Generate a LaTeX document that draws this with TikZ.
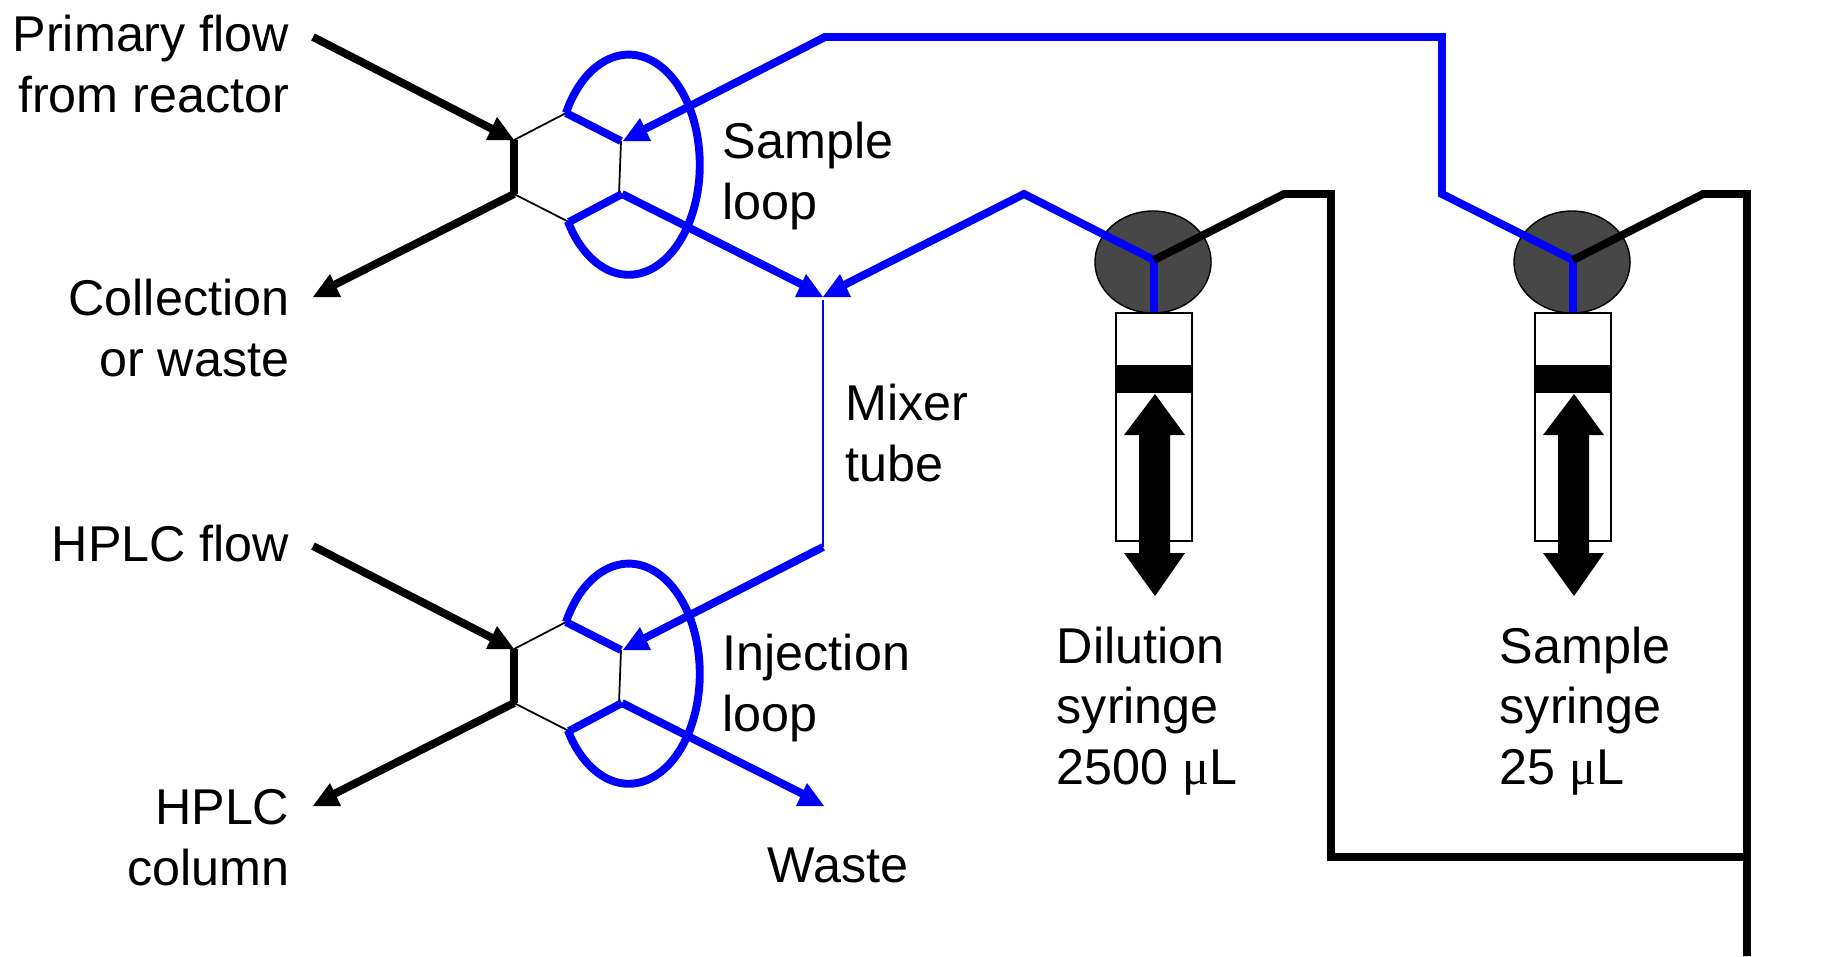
\documentclass[tikz,border=0pt]{standalone}
\usepackage{fontspec}
\setmainfont{Liberation Sans}
\newfontfamily\mufont{Liberation Serif}
\tikzset{
  flow/.style = {line width=2.25pt},
  thin flow/.style = {line width=.5pt},
  label/.style = {inner sep=0pt, font=\fontsize{14.3}{17.3}\selectfont},
  tipr/.pic = {\fill (0,0) -- (-28,0) -- (-17,-23) -- cycle;},
  tipl/.pic = {\fill (0,0) -- (28,0) -- (17,-23) -- cycle;},
  valve/.pic = {
    \coordinate (-lt) at (514,140);
    \coordinate (-lb) at (514,194);
    \coordinate (-t) at (566,113);
    \coordinate (-rt) at (621,141);
    \coordinate (-rb) at (619,194);
    \coordinate (-rc) at (622,194);
    \coordinate (-b) at (569,222);
    \coordinate (-in) at (500,133);
    \coordinate (-bin) at (639,132);
    \coordinate (-out) at (330,287);
    \draw[thin flow] (-lt) -- (-t);
    \draw[thin flow] (-rt) -- (-rb);
    \draw[thin flow] (-lb) -- (-b);
    \draw[flow] (-lt) -- (-lb);
    \draw[flow, blue] (-t) -- (-rt);
    \draw[flow, blue] (-rc) -- (-b);
    \draw[flow, blue] (-t) arc[start angle=152, end angle=-149, x radius=.71cm, y radius=1.1cm];
    \pic[black] at (-lt) {tipr};
    \pic[blue] at (623,141) {tipl};
    \pic[black] at (313,297) {tipl};
  },
  syringe/.pic = {
    \coordinate (-hub) at (0,0);
    \coordinate (-port) at (0,52);
    \draw[fill=black!72, line width=.4pt] (-1,2) ellipse[x radius=.58cm, y radius=.51cm];
    \draw[fill=white, line width=.4pt] (-38,53) rectangle (38,281);
    \fill (-38,105) rectangle (38,133);
    \fill (1,134) -- (31,175) -- (16,175) -- (16,293) -- (31,293) -- (1,336)
      -- (-30,293) -- (-15,293) -- (-15,175) -- (-30,175) -- cycle;
  }
}
\begin{document}
\begin{tikzpicture}[x=.01cm, y=-.01cm]
\useasboundingbox (0,0) rectangle (1831,956);
\pic (up) at (0,0) {valve};
\pic (lo) at (0,509) {valve};
\pic (dil) at (1154,260) {syringe};
\pic (sam) at (1573,260) {syringe};
\coordinate (pin) at (313,37);
\coordinate (hin) at (313,546);
\coordinate (top1) at (825,37);
\coordinate (top2) at (1442,37);
\coordinate (top3) at (1442,194);
\coordinate (mix) at (823,297);
\coordinate (mixa) at (809,288);
\coordinate (mixb) at (838,288);
\coordinate (mixc) at (823,547);
\coordinate (bend1) at (1024,194);
\coordinate (bk1) at (1284,194);
\coordinate (bk2) at (1331,194);
\coordinate (bk3) at (1331,857);
\coordinate (bk4) at (1703,194);
\coordinate (bk5) at (1747,194);
\coordinate (bk6) at (1747,857);
\coordinate (bk7) at (1747,956);
\coordinate (wst) at (809,797);
\draw[flow] (pin) -- (up-in);
\draw[flow] (hin) -- (lo-in);
\draw[flow] (up-lb) -- (up-out);
\draw[flow] (lo-lb) -- (lo-out);
\draw[flow, blue] (up-bin) -- (top1) -- (top2) -- (top3) -- (sam-hub);
\draw[flow, blue] (up-rc) -- (mixa);
\draw[flow, blue] (mixb) -- (bend1) -- (dil-hub);
\draw[thin flow, blue] (823,300) -- (mixc);
\draw[flow, blue] (mixc) -- (lo-bin);
\draw[flow, blue] (lo-rc) -- (wst);
\draw[flow, blue] (dil-hub) -- (dil-port);
\draw[flow, blue] (sam-hub) -- (sam-port);
\draw[flow] (dil-hub) -- (bk1) -- (bk2) -- (bk3) -- (bk6);
\draw[flow] (sam-hub) -- (bk4) -- (bk5) -- (bk7);
\pic[blue] at (mix) {tipr};
\pic[blue] at (mix) {tipl};
\pic[blue] at (824,806) {tipr};
\node[label, align=right, anchor=east] (primary) at (290,64) {Primary flow\\from reactor};
\node[label, align=right, anchor=east] (collect) at (290,328) {Collection\\or waste};
\node[label, align=right, anchor=east] (hplc) at (290,543) {HPLC flow};
\node[label, align=right, anchor=east] (column) at (290,838) {HPLC\\column};
\node[label, align=left, anchor=west] (sloop) at (722,176) {Sample\\loop};
\node[label, align=left, anchor=west] (mixer) at (845,433) {Mixer\\tube};
\node[label, align=left, anchor=west] (iloop) at (722,688) {Injection\\loop};
\node[label, anchor=west] (waste) at (767,865) {Waste};
\node[label, align=left, anchor=west] (dtext) at (1056,711) {Dilution\\syringe\\2500 {\mufont μ}L};
\node[label, align=left, anchor=west] (stext) at (1499,711) {Sample\\syringe\\25 {\mufont μ}L};
\end{tikzpicture}
\end{document}
